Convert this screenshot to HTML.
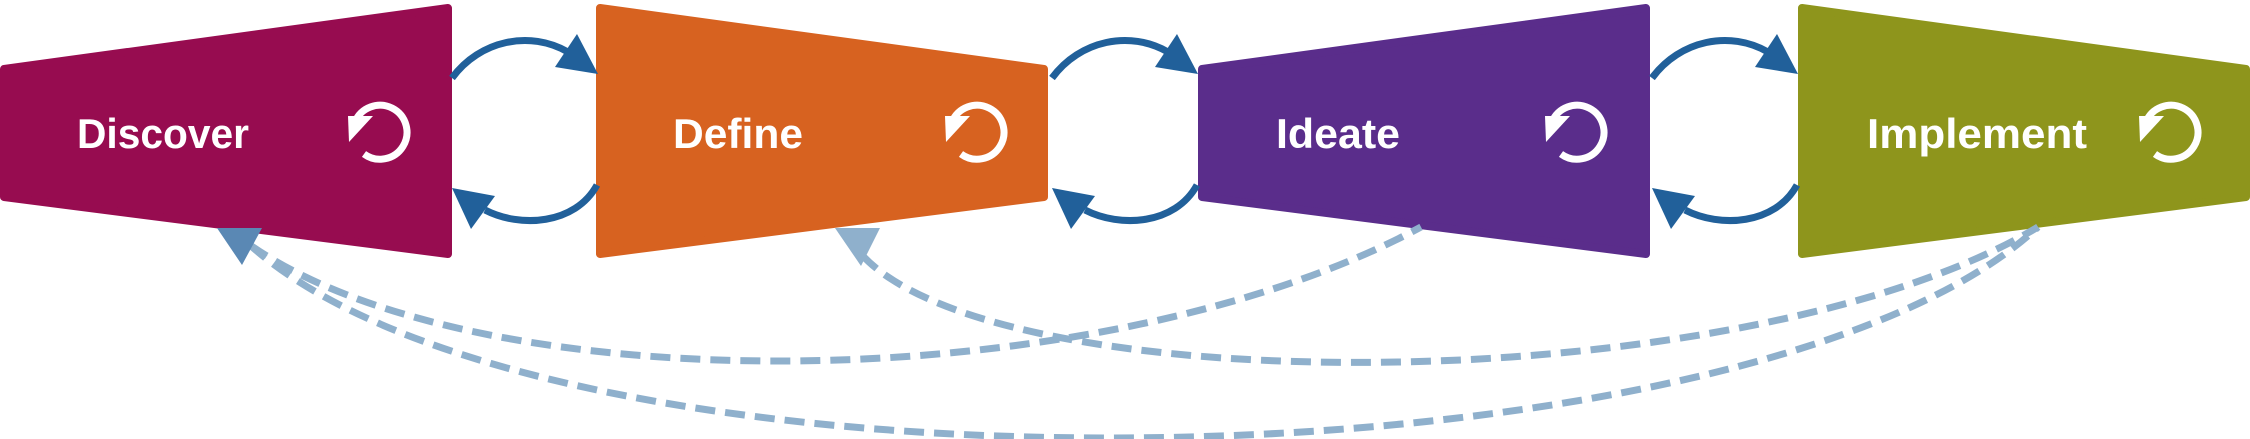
<!DOCTYPE html>
<html><head><meta charset="utf-8"><style>html,body{margin:0;padding:0;background:#fff}svg{display:block}</style></head>
<body>
<svg width="2250" height="439" viewBox="0 0 2250 439" xmlns="http://www.w3.org/2000/svg">
<defs>
<g id="icon">
<path d="M-25,-11 A27,27 0 1 1 -16,21" fill="none" stroke="#fff" stroke-width="7"/>
<polygon points="-32,-17 -7,-17 -31,9" fill="#fff"/>
</g>
</defs>
<g stroke-linejoin="round" stroke-width="8">
<polygon points="4,69 448,8 448,254 4,197" fill="#970c50" stroke="#970c50"/>
<polygon points="600,8 1044,69 1044,197 600,254" fill="#d76220" stroke="#d76220"/>
<polygon points="1202,69 1646,8 1646,254 1202,197" fill="#5a2d8b" stroke="#5a2d8b"/>
<polygon points="1802,8 2246,69 2246,197 1802,254" fill="#8e951c" stroke="#8e951c"/>
</g>
<g font-family="'Liberation Sans',sans-serif" font-weight="bold" font-size="42" fill="#fff">
<text x="77" y="148" textLength="172" lengthAdjust="spacingAndGlyphs">Discover</text>
<text x="673" y="148" textLength="130" lengthAdjust="spacingAndGlyphs">Define</text>
<text x="1276" y="148" textLength="124" lengthAdjust="spacingAndGlyphs">Ideate</text>
<text x="1867" y="148" textLength="220" lengthAdjust="spacingAndGlyphs">Implement</text>
</g>
<use href="#icon" x="380" y="133"/>
<use href="#icon" x="977" y="133"/>
<use href="#icon" x="1577" y="133"/>
<use href="#icon" x="2171" y="133"/>
<g fill="none" stroke="#8fb0cc" stroke-width="7" stroke-dasharray="20,10">
<path d="M250,245 C480,405 1100,400 1421,227"/>
<path d="M250,245 C550,515 1750,495 2038,227"/>
<path d="M862,255 C1000,405 1750,400 2038,227"/>
</g>
<polygon points="217,228 262,228 242,265" fill="#5a88b4"/>
<polygon points="835,228 880,228 861,266" fill="#8fb0cc"/>
<g id="pair">
<path d="M452,78 C480,40 530,30 568,52" fill="none" stroke="#21609a" stroke-width="7"/>
<polygon points="577,34 555,67 598,74" fill="#21609a"/>
<path d="M597,185 C575,225 520,228 485,210" fill="none" stroke="#21609a" stroke-width="7"/>
<polygon points="452,188 495,196 471,229" fill="#21609a"/>
</g>
<use href="#pair" x="600"/>
<use href="#pair" x="1200"/>
</svg>
</body></html>
